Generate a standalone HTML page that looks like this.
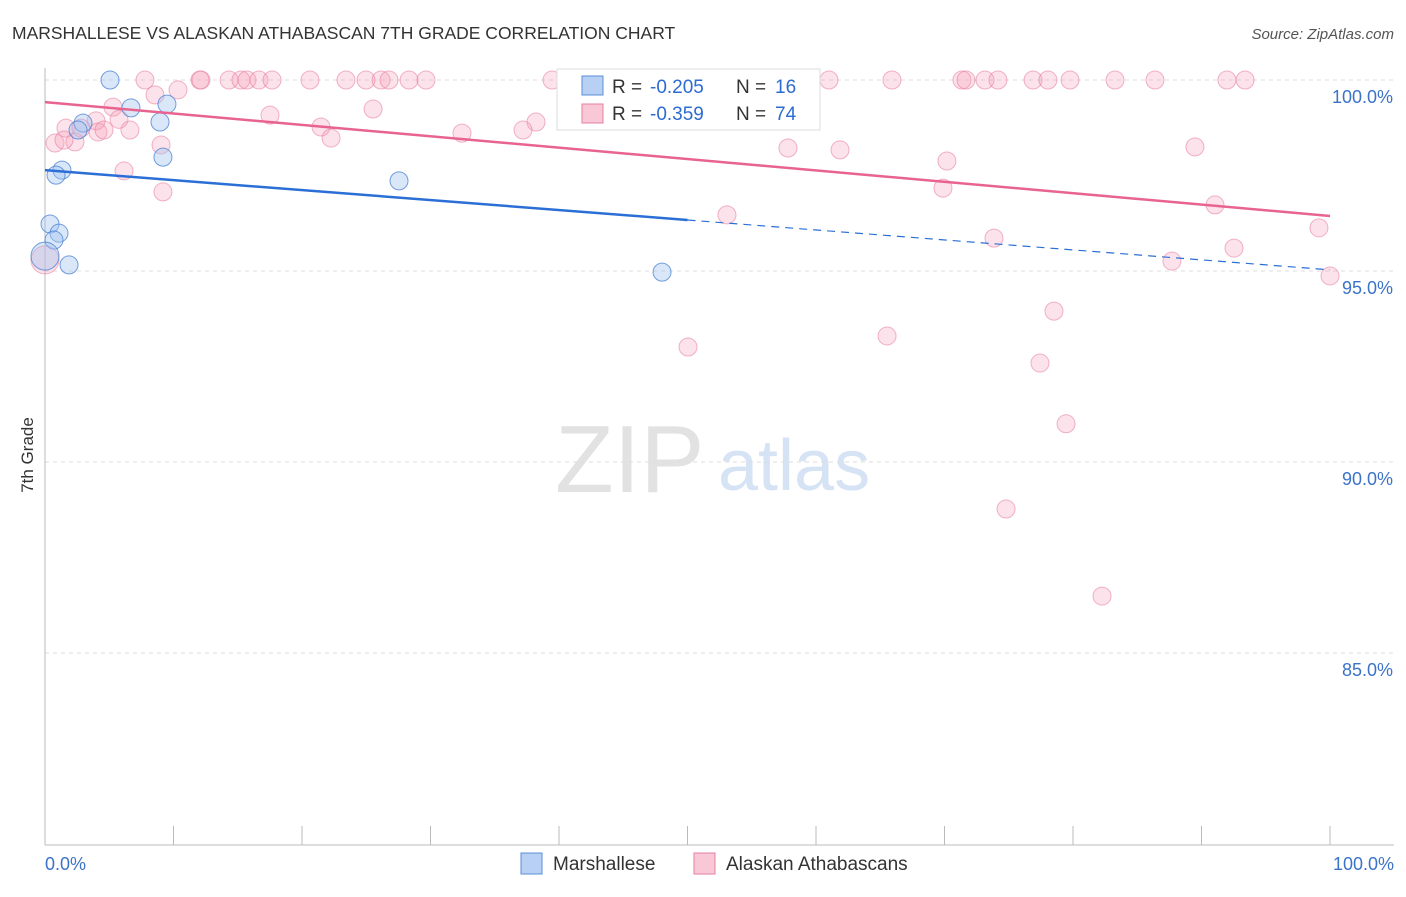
<!DOCTYPE html>
<html><head><meta charset="utf-8"><style>
body{margin:0;background:#fff;font-family:"Liberation Sans",sans-serif}
svg text{font-family:"Liberation Sans",sans-serif}
</style></head><body>
<svg id="c" width="1406" height="892">
<text x="12" y="39" font-size="17.5" fill="#333">MARSHALLESE VS ALASKAN ATHABASCAN 7TH GRADE CORRELATION CHART</text>
<text x="1394" y="39" font-size="15" fill="#555" font-style="italic" text-anchor="end">Source: ZipAtlas.com</text>
<text x="33" y="455" font-size="17" fill="#333" transform="rotate(-90 33 455)" text-anchor="middle">7th Grade</text>
<text x="555" y="492" font-size="96" fill="#e2e2e2" font-family="Liberation Serif">ZIP</text>
<text x="718" y="490" font-size="72" fill="#d5e3f5">atlas</text>
<g id="grid"></g><g id="axes"></g><g id="marks"></g>
<g>
<rect x="557" y="69" width="263" height="61" fill="#fff" stroke="#ddd"/>
<rect x="582" y="76" width="21" height="19" fill="#b7d0f4" stroke="#5b8fd9"/>
<text x="612" y="93" font-size="19" fill="#333">R =</text>
<text x="650" y="93" font-size="19" fill="#2c6bd0">-0.205</text>
<text x="736" y="93" font-size="19" fill="#333">N =</text>
<text x="775" y="93" font-size="19" fill="#2c6bd0">16</text>
<rect x="582" y="104" width="21" height="19" fill="#f9c8d6" stroke="#e67fa0"/>
<text x="612" y="120" font-size="19" fill="#333">R =</text>
<text x="650" y="120" font-size="19" fill="#2c6bd0">-0.359</text>
<text x="736" y="120" font-size="19" fill="#333">N =</text>
<text x="775" y="120" font-size="19" fill="#2c6bd0">74</text>
</g>
<g>
<rect x="521" y="853" width="21" height="21" fill="#b7d0f4" stroke="#5b8fd9"/>
<text x="553" y="870" font-size="19" fill="#333">Marshallese</text>
<rect x="694" y="853" width="21" height="21" fill="#f9c8d6" stroke="#e67fa0"/>
<text x="726" y="870" font-size="19" fill="#333">Alaskan Athabascans</text>
</g>
</svg>
<script>
const blueX=[5.06,9.49,6.69,2.96,2.57,8.95,9.18,1.32,0.86,27.55,0.39,1.09,0.70,0.0,1.87,48.02];
const blueY=[100.0,99.37,99.27,98.87,98.69,98.90,97.98,97.64,97.51,97.36,96.23,95.99,95.81,95.39,95.16,94.97];
const pinkX=[7.78,12.06,12.14,14.32,15.25,15.72,16.65,17.67,20.62,23.42,24.98,26.15,26.77,28.33,29.65,39.46,41.17,41.32,61.01,65.91,71.36,71.67,73.15,74.16,76.89,78.05,79.77,83.27,86.38,91.98,93.39,
8.56,10.35,5.29,25.53,5.76,1.63,3.97,2.80,17.51,21.48,38.21,37.20,32.45,4.12,4.59,6.61,0.78,2.33,1.48,9.03,22.26,57.82,61.87,89.49,70.19,6.15,9.18,69.88,53.07,91.05,99.14,73.85,92.53,87.70,100.0,0,78.52,65.53,50.04,77.43,79.46,74.79,82.26];
const pinkY=[100,100,100,100,100,100,100,100,100,100,100,100,100,100,100,100,100,100,100,100,100,100,100,100,100,100,100,100,100,100,100,
99.61,99.74,99.29,99.24,98.97,98.74,98.93,98.74,99.08,98.77,98.90,98.69,98.61,98.64,98.69,98.69,98.35,98.38,98.43,98.30,98.48,98.22,98.17,98.25,97.88,97.62,97.07,97.17,96.47,96.73,96.13,95.86,95.60,95.26,94.87,95.29,93.95,93.30,93.01,92.59,91.0,88.77,86.49];
const blueTrend=[97.64,95.03];
const pinkTrend=[99.42,96.44];
const yTicks=[100,95,90,85];
const yTickLabels=["100.0%","95.0%","90.0%","85.0%"];
const xTicks=[0,10,20,30,40,50,60,70,80,90,100];
const xs=v=>45+v*12.85, ys=v=>80+(100-v)*38.2;
const NS="http://www.w3.org/2000/svg";
function mk(t,a,p){const e=document.createElementNS(NS,t);for(const k in a)e.setAttribute(k,a[k]);p.appendChild(e);return e;}
const grid=document.getElementById('grid'),axes=document.getElementById('axes'),marks=document.getElementById('marks');
yTicks.forEach((v,i)=>{
 const l=mk('line',{x1:45,x2:1394,y1:ys(v),y2:ys(v),stroke:'#ddd','stroke-dasharray':'4 4'},grid);
 
 
 const t=mk('text',{x:1393,y:ys(v)+23,'font-size':18,fill:'#3b73c9','text-anchor':'end'},grid);
 t.textContent=yTickLabels[i];
 
 
});
const ax=mk('line',{x1:45,x2:45,y1:68,y2:845,stroke:'#bbb'},axes);


const bx=mk('line',{x1:45,x2:1394,y1:845,y2:845,stroke:'#bbb'},axes);


xTicks.forEach(v=>{const t=mk('line',{x1:xs(v),x2:xs(v),y1:826,y2:845,stroke:'#bbb'},axes);
 
 });
[[0,'0.0%','start',45],[100,'100.0%','end',1394]].forEach(d=>{const t=mk('text',{x:d[3],y:870,'font-size':18,fill:'#3b73c9','text-anchor':d[2]},axes);t.textContent=d[1];
 
 });
function dots(X,Y,fill,stroke,name){X.forEach((x,i)=>{const r=(x===0&&Y[i]<96)?14:9;
 const c=mk('circle',{cx:xs(x),cy:ys(Y[i]),r:r,fill:fill,stroke:stroke,'stroke-width':1},marks);
 
 });}
dots(pinkX,pinkY,'rgba(244,160,185,0.3)','rgba(230,120,155,0.55)','athabascan-point');
dots(blueX,blueY,'rgba(160,195,240,0.4)','rgba(60,120,210,0.7)','marshallese-point');
const pl=mk('line',{x1:xs(0),y1:ys(pinkTrend[0]),x2:xs(100),y2:ys(pinkTrend[1]),stroke:'#e8638f','stroke-width':2.5},marks);


const bm=(blueTrend[0]+blueTrend[1])/2;
const bl=mk('line',{x1:xs(0),y1:ys(blueTrend[0]),x2:xs(50),y2:ys(bm),stroke:'#2b6fd6','stroke-width':2.5},marks);


const bd=mk('line',{x1:xs(50),y1:ys(bm),x2:xs(100),y2:ys(blueTrend[1]),stroke:'#2b6fd6','stroke-width':1.2,'stroke-dasharray':'8 6'},marks);


</script>
</body></html>
